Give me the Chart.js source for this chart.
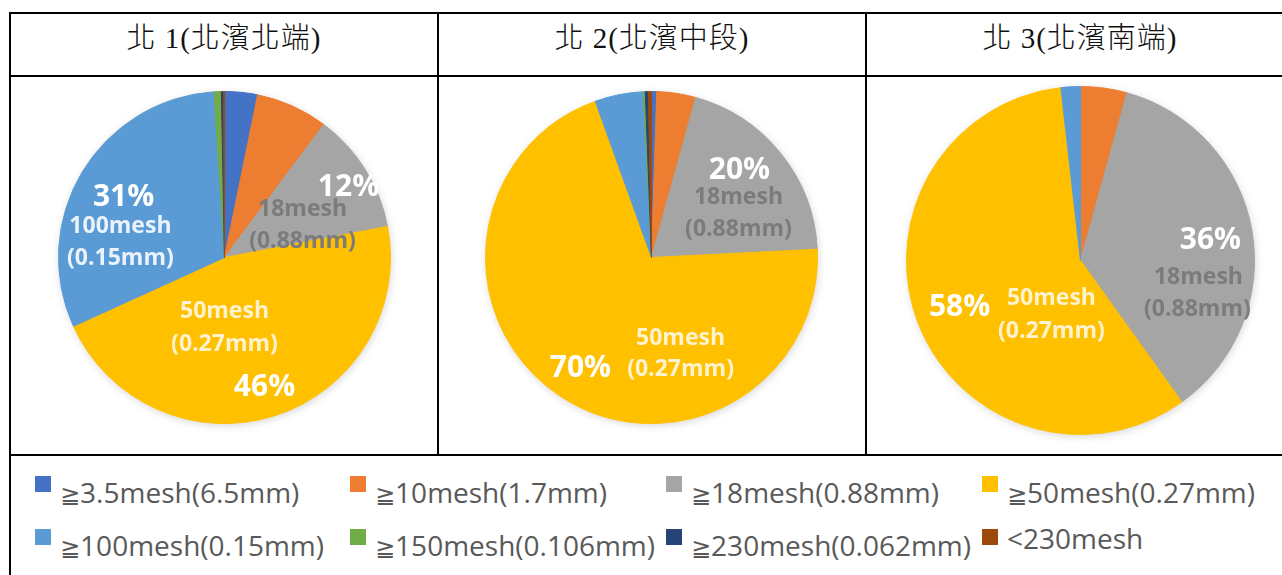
<!DOCTYPE html>
<html>
<head>
<meta charset="utf-8">
<script src="https://cdn.jsdelivr.net/npm/chart.js@4.4.0/dist/chart.umd.min.js"></script>
<style>
html, body { margin:0; padding:0; background:#fff; }
body { width:1282px; height:575px; overflow:hidden; position:relative; font-family:"Open Sans", sans-serif; }
.hl { position:absolute; height:2px; background:#000; z-index:5; }
.vl { position:absolute; width:2px; background:#000; z-index:5; }
.head { position:absolute; top:0; height:76px; line-height:76px; text-align:center; white-space:nowrap;
        font-family:"Liberation Serif", "Noto Sans CJK TC", serif; font-size:29px; font-weight:300;
        letter-spacing:1px; color:#111; }
.pie { position:absolute; }
.lg { position:absolute; font-size:28px; line-height:28px; color:#595959; white-space:nowrap; }
.ge { font-family:"DejaVu Sans", sans-serif; font-size:24px; }
.sw { position:absolute; width:16px; height:16px; }
</style>
</head>
<body>

<div class="hl" style="left:10px; top:12px; width:1272px;"></div>
<div class="hl" style="left:10px; top:75px; width:1272px;"></div>
<div class="hl" style="left:10px; top:454px; width:1272px;"></div>
<div class="vl" style="left:9px; top:12px; height:563px;"></div>
<div class="vl" style="left:437px; top:12px; height:444px;"></div>
<div class="vl" style="left:865px; top:12px; height:444px;"></div>

<div class="head" id="h0" style="left:10px; width:428px;"></div>
<div class="head" id="h1" style="left:438px; width:428px;"></div>
<div class="head" id="h2" style="left:866px; width:428px;"></div>

<div class="pie" style="left:44px; top:77px;"><canvas id="c0" width="361" height="361"></canvas></div>
<div class="pie" style="left:471px; top:77px;"><canvas id="c1" width="361" height="361"></canvas></div>
<div class="pie" style="left:892px; top:72px;"><canvas id="c2" width="377" height="377"></canvas></div>

<div id="legend"></div>

<script>
// size classes, clockwise from 12 o'clock
const categories = ['3.5mesh(6.5mm)', '10mesh(1.7mm)', '18mesh(0.88mm)', '50mesh(0.27mm)',
                    '100mesh(0.15mm)', '150mesh(0.106mm)', '230mesh(0.062mm)', '<230mesh'];
const titles = ['北 1(北濱北端)', '北 2(北濱中段)', '北 3(北濱南端)'];

// percentages
const north1 = [3.2, 7.0, 11.8, 46.2, 30.8, 0.7, 0.2, 0.1];
const north2 = [0.5, 3.8, 19.9, 70.3, 4.7, 0.2, 0.3, 0.3];
const north3 = [0, 4.3, 35.8, 58.1, 1.8, 0, 0, 0];

const colors = ['#4472C4', '#ED7D31', '#A5A5A5', '#FFC000', '#5B9BD5', '#70AD47', '#264478', '#9E480E'];

// text drawn on the slices, position in units of the radius from the centre
const pctFont = 'bold 30px "Open Sans"';
const meshFont = 'bold 23px "Open Sans"';
const text1 = [
  { t:'31%', x:-0.608, y:-0.361, f:pctFont, c:'#fff' },
  { t:'100mesh', x:-0.627, y:-0.187, f:meshFont, c:'#eaf2fb' },
  { t:'(0.15mm)', x:-0.627, y:0.008, f:meshFont, c:'#eaf2fb' },
  { t:'12%', x:0.747, y:-0.422, f:pctFont, c:'#fff' },
  { t:'18mesh', x:0.470, y:-0.289, f:meshFont, c:'#7b7b7b' },
  { t:'(0.88mm)', x:0.470, y:-0.096, f:meshFont, c:'#7b7b7b' },
  { t:'50mesh', x:0, y:0.325, f:meshFont, c:'#fff3cf' },
  { t:'(0.27mm)', x:0, y:0.524, f:meshFont, c:'#fff3cf' },
  { t:'46%', x:0.241, y:0.783, f:pctFont, c:'#fff' }
];
const text2 = [
  { t:'20%', x:0.530, y:-0.524, f:pctFont, c:'#fff' },
  { t:'18mesh', x:0.524, y:-0.361, f:meshFont, c:'#7b7b7b' },
  { t:'(0.88mm)', x:0.524, y:-0.169, f:meshFont, c:'#7b7b7b' },
  { t:'50mesh', x:0.175, y:0.488, f:meshFont, c:'#fff3cf' },
  { t:'(0.27mm)', x:0.175, y:0.675, f:meshFont, c:'#fff3cf' },
  { t:'70%', x:-0.428, y:0.669, f:pctFont, c:'#fff' }
];
const text3 = [
  { t:'36%', x:0.747, y:-0.115, f:pctFont, c:'#fff' },
  { t:'18mesh', x:0.678, y:0.098, f:meshFont, c:'#7b7b7b' },
  { t:'(0.88mm)', x:0.672, y:0.282, f:meshFont, c:'#7b7b7b' },
  { t:'58%', x:-0.695, y:0.270, f:pctFont, c:'#fff' },
  { t:'50mesh', x:-0.167, y:0.218, f:meshFont, c:'#fff3cf' },
  { t:'(0.27mm)', x:-0.167, y:0.408, f:meshFont, c:'#fff3cf' }
];

const shadow = {
  id: 'pieShadow',
  beforeDatasetsDraw(chart) {
    const a = chart.getDatasetMeta(0).data[0];
    const ctx = chart.ctx;
    ctx.save();
    ctx.shadowColor = 'rgba(0,0,0,0.2)';
    ctx.shadowBlur = 10;
    ctx.shadowOffsetX = 1;
    ctx.shadowOffsetY = 2;
    ctx.beginPath();
    ctx.arc(a.x, a.y, a.outerRadius - 1, 0, Math.PI * 2);
    ctx.fillStyle = '#ccc';
    ctx.fill();
    ctx.restore();
  }
};

function sliceText(items) {
  return {
    id: 'sliceText',
    afterDatasetsDraw(chart) {
      const a = chart.getDatasetMeta(0).data[0];
      const ctx = chart.ctx;
      ctx.save();
      ctx.textAlign = 'center';
      ctx.textBaseline = 'middle';
      items.forEach(it => {
        ctx.font = it.f;
        ctx.fillStyle = it.c;
        ctx.fillText(it.t, a.x + it.x * a.outerRadius, a.y + it.y * a.outerRadius);
      });
      ctx.restore();
    }
  };
}

function makePie(id, values, items) {
  new Chart(document.getElementById(id), {
    type: 'pie',
    data: {
      labels: categories,
      datasets: [{ data: values, backgroundColor: colors, borderColor: colors, borderWidth: 1 }]
    },
    options: {
      responsive: false,
      animation: false,
      devicePixelRatio: 1,
      layout: { padding: 14 },
      plugins: { legend: { display: false }, tooltip: { enabled: false } }
    },
    plugins: [shadow, sliceText(items)]
  });
}

titles.forEach((t, i) => { document.getElementById('h' + i).textContent = t; });

makePie('c0', north1, text1);
makePie('c1', north2, text2);
makePie('c2', north3, text3);

// legend, two rows of four
const lg = document.getElementById('legend');
const colX = [35, 350, 666, 982];
const rowY = [476, 529];
categories.forEach((name, i) => {
  const col = i % 4, row = Math.floor(i / 4);
  const sw = document.createElement('div');
  sw.className = 'sw';
  sw.style.left = colX[col] + 'px';
  sw.style.top = rowY[row] + 'px';
  sw.style.background = colors[i];
  lg.appendChild(sw);
  const tx = document.createElement('div');
  tx.className = 'lg';
  tx.style.left = (colX[col] + 25) + 'px';
  if (name.startsWith('<')) {
    tx.style.top = (rowY[row] - 5) + 'px';
    tx.textContent = name;
  } else {
    tx.style.top = (rowY[row] + 2) + 'px';
    tx.innerHTML = '<span class="ge">≧</span>' + name;
  }
  lg.appendChild(tx);
});
</script>
</body>
</html>
